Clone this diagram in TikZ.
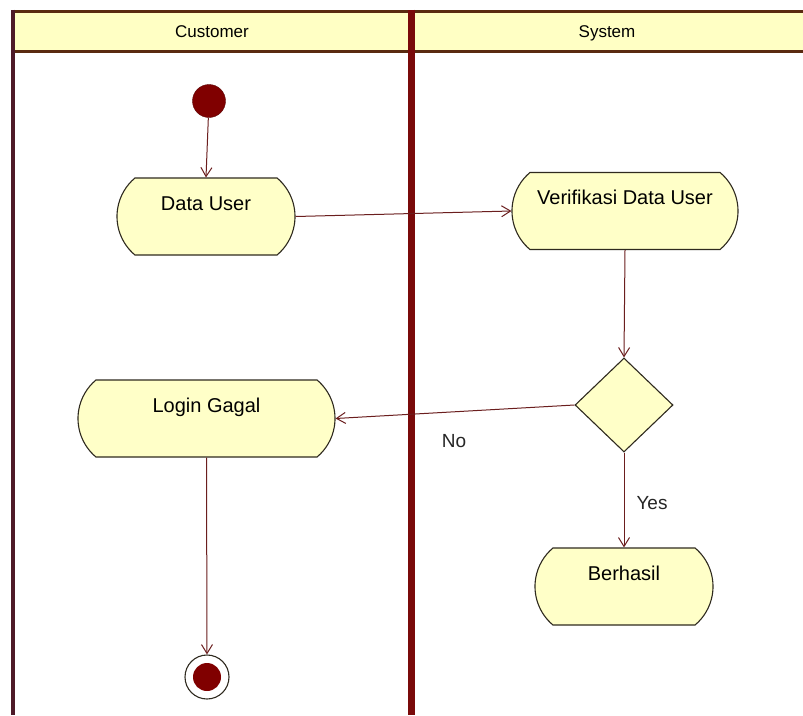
\documentclass[tikz,border=0pt]{standalone}
\usepackage{fontspec}
\setmainfont{Liberation Sans}
\usetikzlibrary{shapes.misc,shapes.geometric,arrows.meta}
\definecolor{nodefill}{HTML}{FFFFC8}
\definecolor{headfill}{HTML}{FFFFC4}
\definecolor{nodeline}{HTML}{2F2A1F}
\definecolor{flowline}{HTML}{6B1E1E}
\definecolor{lanered}{HTML}{7A0A0A}
\definecolor{laneleft}{HTML}{4E1A28}
\definecolor{headline}{HTML}{5A2A10}
\definecolor{startred}{HTML}{800000}
\tikzset{
  actbox/.style={rounded rectangle, rounded rectangle arc length=100, draw=nodeline, fill=nodefill,
    line width=1.1pt, inner xsep=0pt, inner ysep=17pt, text height=15pt, text depth=28pt,
    font=\fontsize{20}{22}\selectfont, anchor=center},
  decision/.style={diamond, draw=nodeline, fill=nodefill, line width=1.1pt, minimum width=98pt,
    minimum height=94pt, inner sep=0pt},
  flow/.style={draw=flowline, line width=1pt, -{Straight Barb[length=9pt,width=11pt]}},
  lanetitle/.style={font=\fontsize{17}{19}\selectfont, anchor=base},
  guard/.style={font=\fontsize{19}{21}\selectfont, text=black!85}
}
\begin{document}
\begin{tikzpicture}[x=1pt,y=-1pt]
\useasboundingbox (0,0) rectangle (803,715);
\fill[white] (0,0) rectangle (803,715);
% header
\fill[headfill] (13,11) rectangle (803,51);
\draw[headline, line width=3pt] (13,11) -- (803,11);
\draw[headline, line width=3pt] (13,51) -- (803,51);
\draw[laneleft, line width=4pt] (13,9.5) -- (13,715);
\draw[lanered, line width=7pt] (411,9.5) -- (411,715);
\node[lanetitle] (hc) at (212,37) {Customer};
\node[lanetitle] (hs) at (607,37) {System};
% nodes
\node[circle, fill=startred, draw=startred!70!black, minimum size=33pt, inner sep=0pt] (start) at (209,101) {};
\node[actbox, minimum width=178pt, minimum height=77pt] (du) at (206,216.5) {Data User};
\node[actbox, minimum width=226pt, minimum height=76pt] (ver) at (625,211) {Verifikasi Data User};
\node[decision] (dec) at (624,405) {};
\node[actbox, minimum width=257pt, minimum height=77pt] (lg) at (206.5,418.5) {Login Gagal};
\node[actbox, minimum width=178pt, minimum height=77pt] (ok) at (624,586.5) {Berhasil};
\node[circle, draw=nodeline, fill=white, line width=1.1pt, minimum size=44pt, inner sep=0pt] (end) at (207,677) {};
\fill[startred] (end.center) circle (14pt);
% flows
\draw[flow] (start) -- (du.north);
\draw[flow] (du.east) -- (ver.west);
\draw[flow] (ver.south) -- (dec.north);
\draw[flow] (dec.west) -- (lg.east);
\draw[flow] (dec.south) -- (ok.north);
\draw[flow] (lg.south) -- (end.north);
% guards
\node[guard] (no) at (454,441) {No};
\node[guard] (yes) at (652,503) {Yes};
\end{tikzpicture}
\end{document}
